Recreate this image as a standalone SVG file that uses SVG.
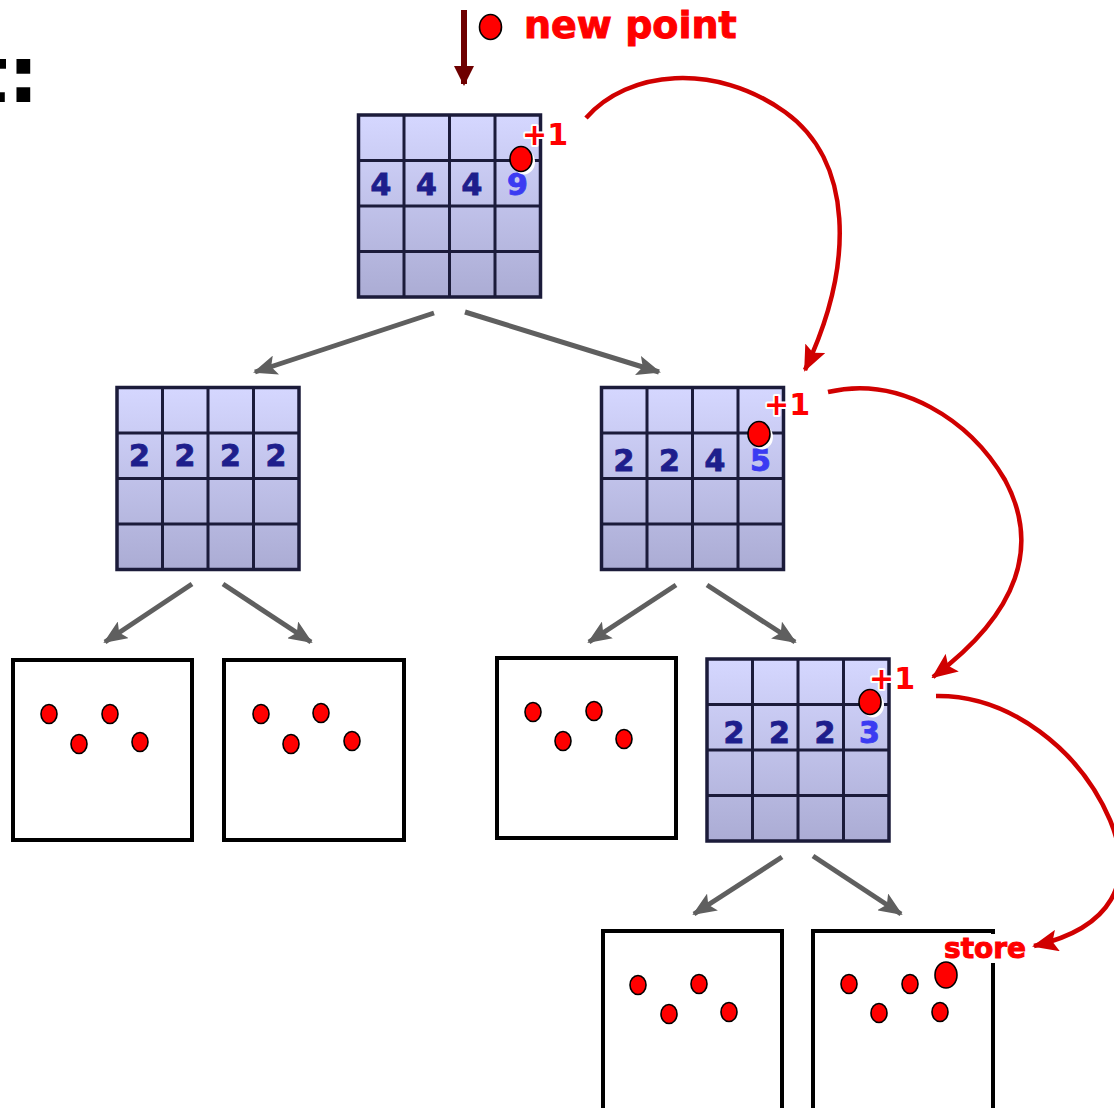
<svg xmlns="http://www.w3.org/2000/svg" width="1114" height="1108" viewBox="0 0 1114 1108">
  <style>
    .grid-bg { stroke: #1b1b3a; stroke-width: 3.5; }
    .grid-line { stroke: #1b1b3a; stroke-width: 3; fill: none; }
    .num { font-family: "DejaVu Sans", Verdana, sans-serif; font-weight: bold; font-size: 30px; fill: #1e1e8c; stroke: #1e1e8c; stroke-width: 0.9; text-anchor: middle; }
    .num-hi { fill: #3b3bf2; stroke: #3b3bf2; }
    .plus { font-family: "DejaVu Sans", Verdana, sans-serif; font-weight: bold; font-size: 30px; fill: #ff0000; stroke: #ffffff; stroke-width: 4; paint-order: stroke; stroke-linejoin: round; }
    .leaf { fill: #ffffff; stroke: #000000; stroke-width: 4; }
    .pt { fill: #ff0000; stroke: #000000; stroke-width: 1.6; }
    .pt-shadow { fill: #ffffff; }
    .tree-edge { stroke: #5f5f5f; stroke-width: 5; fill: none; marker-end: url(#grayHead); }
    .count-path { stroke: #d00000; stroke-width: 4.5; fill: none; marker-end: url(#redHead); }
    .label { font-family: "DejaVu Sans", Verdana, sans-serif; font-weight: bold; fill: #ff0000; stroke: #ff0000; stroke-width: 1; }
  </style>
  <defs>
    <linearGradient id="cellFill" x1="0" y1="0" x2="0" y2="1">
      <stop offset="0" stop-color="#d5d7ff"/>
      <stop offset="1" stop-color="#abacd4"/>
    </linearGradient>
    <marker id="grayHead" markerUnits="userSpaceOnUse" markerWidth="24" markerHeight="20" viewBox="0 0 24 20" refX="22" refY="10" orient="auto">
      <path d="M0,0 L24,10 L0,20 L5,10 Z" fill="#5f5f5f"/>
    </marker>
    <marker id="redHead" markerUnits="userSpaceOnUse" markerWidth="26" markerHeight="22" viewBox="0 0 26 22" refX="24" refY="11" orient="auto">
      <path d="M0,0 L26,11 L0,22 L5,11 Z" fill="#d00000"/>
    </marker>
    <marker id="darkHead" markerUnits="userSpaceOnUse" markerWidth="20" markerHeight="20" viewBox="0 0 20 20" refX="18" refY="10" orient="auto">
      <path d="M0,0 L20,10 L0,20 Z" fill="#6e0000"/>
    </marker>
    <!-- 4x4 count grid, 182 px square -->
    <g id="gridShape">
      <rect class="grid-bg" x="0" y="0" width="182" height="182" fill="url(#cellFill)"/>
      <path class="grid-line" d="M45.5,0 V182 M91,0 V182 M136.5,0 V182 M0,45.5 H182 M0,91 H182 M0,136.5 H182"/>
    </g>
  </defs>

  <rect width="1114" height="1108" fill="#ffffff"/>

  <!-- heading fragment at the left edge -->
  <text x="39" y="102" font-family="DejaVu Sans, Verdana, sans-serif" font-weight="bold" font-size="78" fill="#000000" text-anchor="end">t:</text>

  <!-- incoming point -->
  <g id="new-point">
    <line x1="464" y1="10" x2="464" y2="84" stroke="#6e0000" stroke-width="6" marker-end="url(#darkHead)"/>
    <ellipse class="pt" cx="490.5" cy="27" rx="11" ry="12.5"/>
    <text class="label" x="524" y="38" font-size="38">new point</text>
  </g>

  <!-- tree edges -->
  <g id="connectors">
    <path class="tree-edge" d="M434,313 L255,372"/>
    <path class="tree-edge" d="M465,312 L659,372"/>
    <path class="tree-edge" d="M192,584 L105,642"/>
    <path class="tree-edge" d="M223,584 L311,642"/>
    <path class="tree-edge" d="M676,585 L589,642"/>
    <path class="tree-edge" d="M707,585 L795,642"/>
    <path class="tree-edge" d="M782,857 L694,914"/>
    <path class="tree-edge" d="M813,856 L901,914"/>
  </g>

  <!-- count-update path -->
  <g id="update-arrows">
    <path class="count-path" d="M586,118 C628,70 715,62 785,112 C852,160 856,262 805,370"/>
    <path class="count-path" d="M828,392 C900,375 970,420 1005,480 C1040,545 1020,612 933,677"/>
    <path class="count-path" d="M936,696 C1010,695 1080,750 1110,820 C1136,882 1112,928 1034,946"/>
  </g>

  <!-- root -->
  <g id="node-root">
    <use href="#gridShape" x="358.5" y="115"/>
    <text class="num" x="381" y="195">4</text>
    <text class="num" x="426.5" y="195">4</text>
    <text class="num" x="472" y="195">4</text>
    <text class="num num-hi" x="517.5" y="195">9</text>
    <ellipse class="pt-shadow" cx="524" cy="162" rx="11" ry="12.5"/>
    <ellipse class="pt" cx="521" cy="159" rx="11" ry="12.5"/>
    <text class="plus" x="522" y="145">+1</text>
  </g>

  <!-- second level -->
  <g id="node-left">
    <use href="#gridShape" x="117" y="387.5"/>
    <text class="num" x="139.5" y="466">2</text>
    <text class="num" x="185" y="466">2</text>
    <text class="num" x="230.5" y="466">2</text>
    <text class="num" x="276" y="466">2</text>
  </g>

  <g id="node-right">
    <use href="#gridShape" x="601.5" y="387.5"/>
    <text class="num" x="624" y="471">2</text>
    <text class="num" x="669.5" y="471">2</text>
    <text class="num" x="715" y="471">4</text>
    <text class="num num-hi" x="760.5" y="471">5</text>
    <ellipse class="pt-shadow" cx="762" cy="437" rx="11" ry="12.5"/>
    <ellipse class="pt" cx="759" cy="434" rx="11" ry="12.5"/>
    <text class="plus" x="764" y="415">+1</text>
  </g>

  <!-- third level -->
  <g id="leaf-1">
    <rect class="leaf" x="13" y="660" width="179" height="180"/>
    <ellipse class="pt" cx="49" cy="714" rx="8" ry="9.5"/>
    <ellipse class="pt" cx="79" cy="744" rx="8" ry="9.5"/>
    <ellipse class="pt" cx="110" cy="714" rx="8" ry="9.5"/>
    <ellipse class="pt" cx="140" cy="742" rx="8" ry="9.5"/>
  </g>

  <g id="leaf-2">
    <rect class="leaf" x="224" y="660" width="180" height="180"/>
    <ellipse class="pt" cx="261" cy="714" rx="8" ry="9.5"/>
    <ellipse class="pt" cx="291" cy="744" rx="8" ry="9.5"/>
    <ellipse class="pt" cx="321" cy="713" rx="8" ry="9.5"/>
    <ellipse class="pt" cx="352" cy="741" rx="8" ry="9.5"/>
  </g>

  <g id="leaf-3">
    <rect class="leaf" x="497" y="658" width="179" height="180"/>
    <ellipse class="pt" cx="533" cy="712" rx="8" ry="9.5"/>
    <ellipse class="pt" cx="563" cy="741" rx="8" ry="9.5"/>
    <ellipse class="pt" cx="594" cy="711" rx="8" ry="9.5"/>
    <ellipse class="pt" cx="624" cy="739" rx="8" ry="9.5"/>
  </g>

  <g id="node-inner">
    <use href="#gridShape" x="707" y="659"/>
    <text class="num" x="734" y="743">2</text>
    <text class="num" x="779.5" y="743">2</text>
    <text class="num" x="825" y="743">2</text>
    <text class="num num-hi" x="869.5" y="743">3</text>
    <ellipse class="pt-shadow" cx="873" cy="705" rx="11" ry="12.5"/>
    <ellipse class="pt" cx="870" cy="702" rx="11" ry="12.5"/>
    <text class="plus" x="869" y="689">+1</text>
  </g>

  <!-- bottom level -->
  <g id="leaf-4">
    <rect class="leaf" x="603" y="931" width="179" height="190"/>
    <ellipse class="pt" cx="638" cy="985" rx="8" ry="9.5"/>
    <ellipse class="pt" cx="669" cy="1014" rx="8" ry="9.5"/>
    <ellipse class="pt" cx="699" cy="984" rx="8" ry="9.5"/>
    <ellipse class="pt" cx="729" cy="1012" rx="8" ry="9.5"/>
  </g>

  <g id="leaf-5">
    <rect class="leaf" x="813" y="931" width="180" height="190"/>
    <ellipse class="pt" cx="849" cy="984" rx="8" ry="9.5"/>
    <ellipse class="pt" cx="879" cy="1013" rx="8" ry="9.5"/>
    <ellipse class="pt" cx="910" cy="984" rx="8" ry="9.5"/>
    <ellipse class="pt" cx="940" cy="1012" rx="8" ry="9.5"/>
    <rect x="941" y="934" width="60" height="29" fill="#ffffff"/>
    <ellipse class="pt" cx="946" cy="975" rx="11" ry="13"/>
    <text class="label" x="944" y="958" font-size="28">store</text>
  </g>
</svg>
